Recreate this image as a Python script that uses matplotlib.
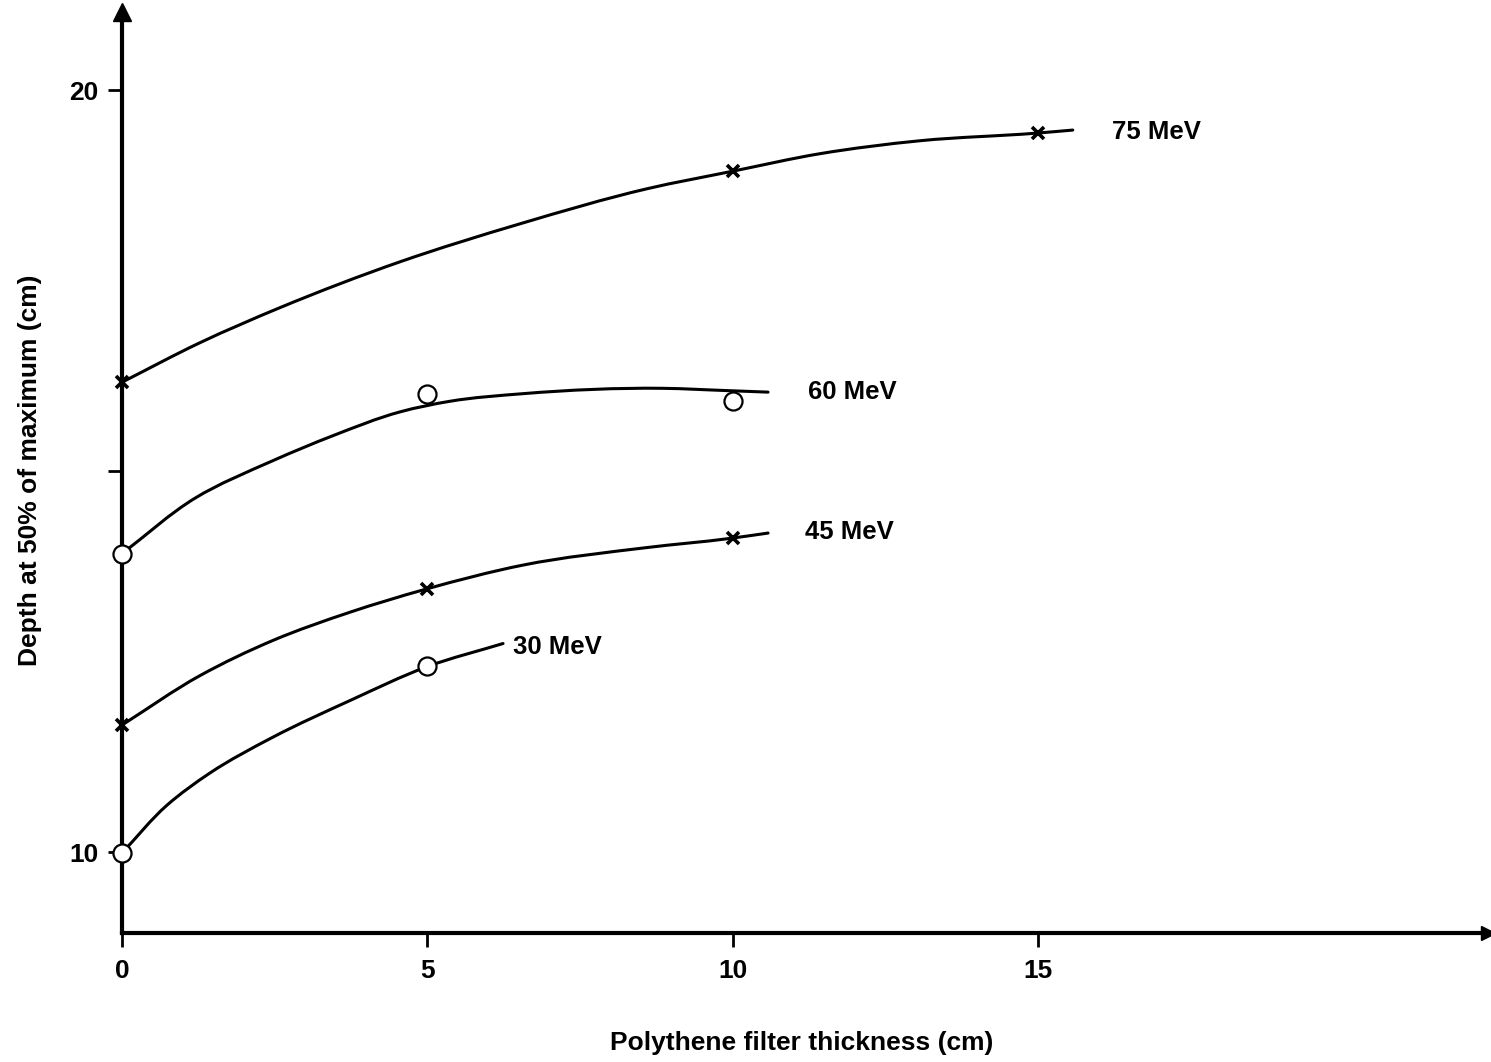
import matplotlib
matplotlib.use("Agg")
import matplotlib.pyplot as plt
import numpy as np
from matplotlib.path import Path
from matplotlib.patches import PathPatch

plt.rcParams['font.family'] = ['Liberation Sans', 'DejaVu Sans']

# measured points (polythene thickness in cm, depth at 50% in cm)
x_75 = [0, 10, 15]
y_75 = [16.17, 18.94, 19.44]
x_60 = [0, 5, 10]
y_60 = [13.92, 16.02, 15.92]
x_45 = [0, 5, 10]
y_45 = [11.67, 13.46, 14.12]
x_30 = [0, 5]
y_30 = [9.99, 12.44]

# hand-drawn fitted curves, read along their length
cx_75 = [0, 1.28, 2.59, 4.55, 6.52, 8.60, 10.0, 11.43, 13.07, 14.98, 15.57]
cy_75 = [16.17, 16.69, 17.15, 17.75, 18.25, 18.71, 18.94, 19.17, 19.34, 19.44, 19.48]
cx_60 = [0, 1.2, 2.47, 3.46, 4.55, 5.37, 6.57, 8.86, 9.91, 10.58]
cy_60 = [13.92, 14.65, 15.14, 15.47, 15.78, 15.92, 16.02, 16.09, 16.06, 16.04]
cx_45 = [0, 1.28, 2.47, 3.73, 4.96, 6.57, 8.60, 9.96, 10.58]
cy_45 = [11.67, 12.32, 12.78, 13.15, 13.45, 13.77, 14.00, 14.12, 14.19]
cx_30 = [0, 0.74, 1.44, 2.47, 3.73, 5.01, 6.24]
cy_30 = [9.99, 10.62, 11.04, 11.51, 11.99, 12.44, 12.74]

energies = ["75 MeV", "60 MeV", "45 MeV", "30 MeV"]
label_x = [16.21, 11.23, 11.18, 6.40]
label_y = [19.45, 16.04, 14.20, 12.70]

x_ticks = [0, 5, 10, 15]
y_ticks = [10, 15, 20]
y_ticklabels = ["10", "", "20"]


def smooth_path(ax, xs, ys):
    """Cubic Bezier through the points, tangents from chord-length differences (pixel space)."""
    p = ax.transData.transform(np.column_stack([xs, ys]))
    t = np.concatenate([[0], np.cumsum(np.hypot(*np.diff(p, axis=0).T))])
    m = np.gradient(p, t, axis=0)
    verts = [p[0]]
    codes = [Path.MOVETO]
    for i in range(len(p) - 1):
        h = t[i + 1] - t[i]
        verts += [p[i] + m[i] * h / 3, p[i + 1] - m[i + 1] * h / 3, p[i + 1]]
        codes += [Path.CURVE4] * 3
    return Path(verts, codes)


W, H = 1491, 1062
fig = plt.figure(figsize=(W / 100, H / 100), dpi=100)
ax = fig.add_axes([122 / W, (H - 933) / H, (1488 - 122) / W, (933 - 12) / H])
ax.set_xlim(0, 22.37)
ax.set_ylim(8.94, 21.03)

for s in ["top", "right"]:
    ax.spines[s].set_visible(False)
for s in ["left", "bottom"]:
    ax.spines[s].set_linewidth(3)

# arrow heads on both axes
ax.plot(1, 0, ">k", ms=10, transform=ax.transAxes, clip_on=False)
ax.plot(0, 1, "^k", ms=13, transform=ax.transAxes, clip_on=False)

for cx, cy in [(cx_75, cy_75), (cx_60, cy_60), (cx_45, cy_45), (cx_30, cy_30)]:
    patch = PathPatch(smooth_path(ax, cx, cy), facecolor="none", edgecolor="black",
                      lw=2.2, capstyle="round", transform=None)
    ax.add_artist(patch)

cross_kw = dict(ls="none", marker="x", ms=8, mew=2.6, color="black", clip_on=False, zorder=4)
circ_kw = dict(ls="none", marker="o", ms=13, mew=1.6, mfc="white", mec="black", clip_on=False, zorder=4)
ax.plot(x_75, y_75, **cross_kw)
ax.plot(x_45, y_45, **cross_kw)
ax.plot(x_60, y_60, **circ_kw)
ax.plot(x_30, y_30, **circ_kw)

for txt, lx, ly in zip(energies, label_x, label_y):
    ax.text(lx, ly, txt, fontsize=18.5, fontweight="bold", ha="left", va="center")

ax.set_xticks(x_ticks)
ax.set_yticks(y_ticks)
ax.set_yticklabels(y_ticklabels)
ax.tick_params(axis="both", direction="out", length=10, width=2, labelsize=19)
ax.tick_params(axis="y", pad=7)
ax.tick_params(axis="x", pad=9)
for lab in ax.get_xticklabels() + ax.get_yticklabels():
    lab.set_fontweight("bold")

fig.text(30 / W, 1 - 470 / H, "Depth at 50% of maximum (cm)", rotation=90,
         fontsize=19, fontweight="bold", ha="center", va="center")
fig.text(802 / W, 1 - 1043 / H, "Polythene filter thickness (cm)",
         fontsize=19, fontweight="bold", ha="center", va="center")

fig.savefig("out.png", dpi=100, facecolor="white")
